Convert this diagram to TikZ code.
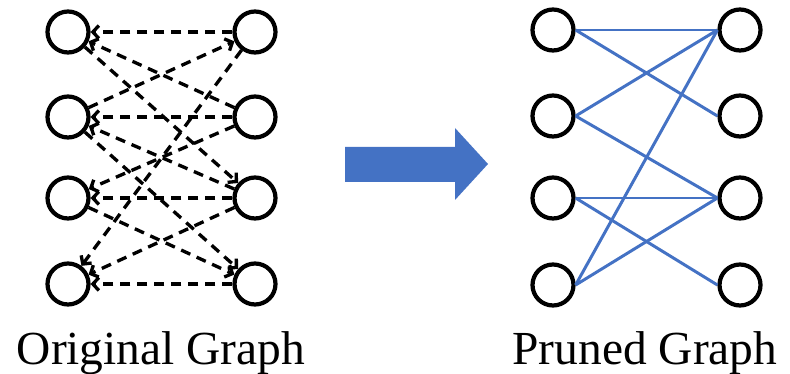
\documentclass[tikz,border=0pt]{standalone}
\usepackage{fontspec}
\setmainfont{Liberation Serif}
\usepackage{xcolor}
\usetikzlibrary{arrows.meta}
\definecolor{prunedblue}{HTML}{4472C4}
\tikzset{
  vtx/.style={circle,draw,line width=2.4pt,minimum size=0.82cm,inner sep=0pt},
  oldedge/.style={line width=1.9pt,dash pattern=on 0.2cm off 0.14cm,
    -{Straight Barb[length=1.2mm,width=2.6mm]}},
  newedge/.style={line width=1.7pt,prunedblue},
  caption/.style={anchor=base,inner sep=0pt,font=\fontsize{27}{30}\selectfont}
}
\begin{document}
\begin{tikzpicture}[x=0.02cm,y=-0.02cm]
    \useasboundingbox (0,0) rectangle (790,374);
    % original graph
    \node[vtx] (a1) at (68,32) {};\node[vtx] (b1) at (255,32) {};
    \node[vtx] (a2) at (68,117) {};\node[vtx] (b2) at (255,117) {};
    \node[vtx] (a3) at (68,198) {};\node[vtx] (b3) at (255,198) {};
    \node[vtx] (a4) at (68,284) {};\node[vtx] (b4) at (255,284) {};
    \draw[oldedge] (b1)--(a1);\draw[oldedge] (b2)--(a1);\draw[oldedge] (a1)--(b3);
    \draw[oldedge] (a2)--(b1);\draw[oldedge] (b2)--(a2);\draw[oldedge] (b3)--(a2);
    \draw[oldedge] (a2)--(b4);
    \draw[oldedge] (b2)--(a3);\draw[oldedge] (b3)--(a3);\draw[oldedge] (a3)--(b4);
    \draw[oldedge] (b1)--(a4);\draw[oldedge] (b3)--(a4);\draw[oldedge] (b4)--(a4);
    \node[caption] (orig) at (161,364) {Original Graph};
    % arrow
    \fill[prunedblue] (345,147)--(455,147)--(455,128)--(488,164)--(455,200)--(455,182)--(345,182)--cycle;
    % pruned graph
    \node[vtx] (c1) at (553,30) {};\node[vtx] (d1) at (740,30) {};
    \node[vtx] (c2) at (553,116) {};\node[vtx] (d2) at (740,116) {};
    \node[vtx] (c3) at (553,198) {};\node[vtx] (d3) at (740,198) {};
    \node[vtx] (c4) at (553,285) {};\node[vtx] (d4) at (740,285) {};
    \draw[newedge] (c1.east)--(d1.west);\draw[newedge] (c1.east)--(d2.west);
    \draw[newedge] (c2.east)--(d1.west);\draw[newedge] (c2.east)--(d3.west);
    \draw[newedge] (c3.east)--(d3.west);\draw[newedge] (c3.east)--(d4.west);
    \draw[newedge] (c4.east)--(d1.west);\draw[newedge] (c4.east)--(d3.west);
    \node[caption] (pruned) at (645,364) {Pruned Graph};
\end{tikzpicture}
\end{document}
